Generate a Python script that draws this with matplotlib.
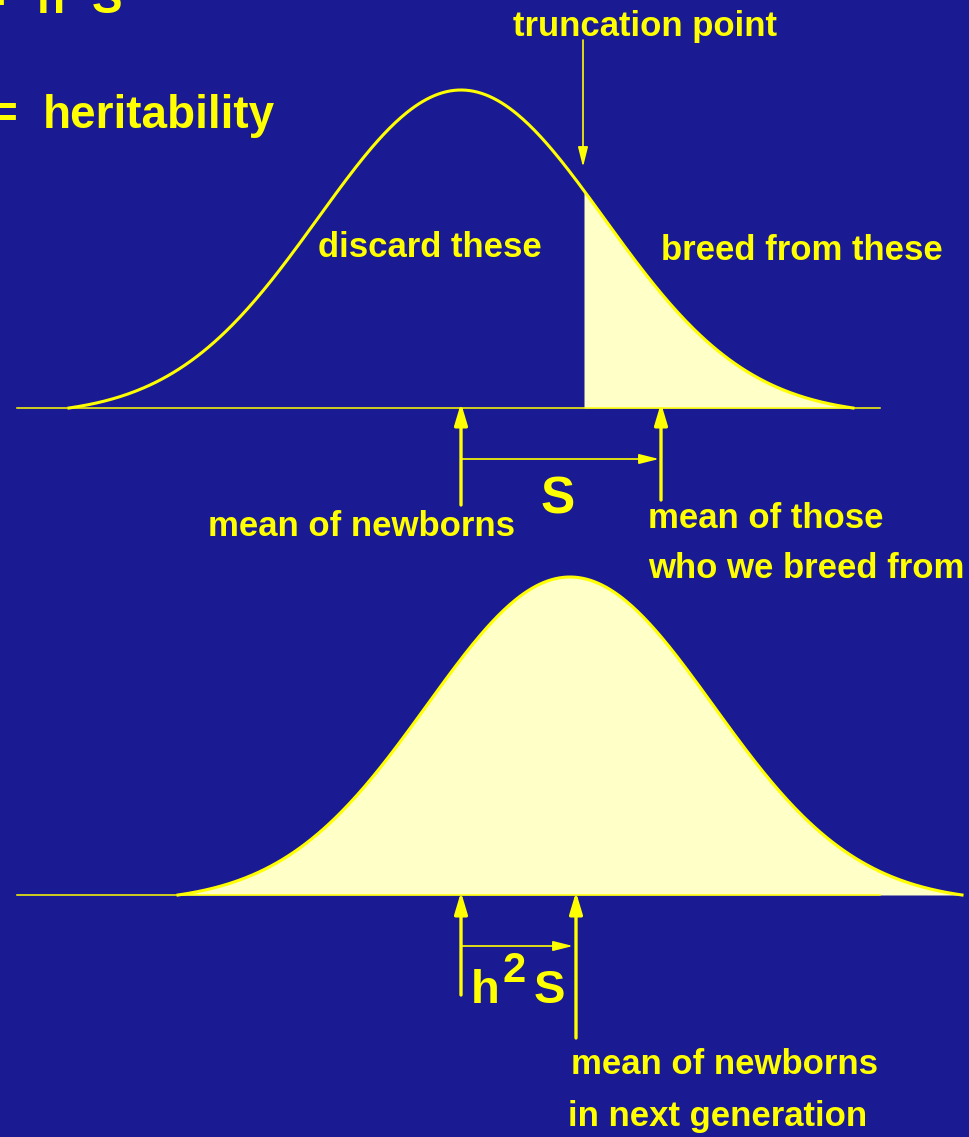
import numpy as np
import matplotlib
matplotlib.use("Agg")
import matplotlib.pyplot as plt

# --- Werte (Pixel-Koordinaten der Folie) ------------------------------------
BG = "#1a1a92"
GELB = "#ffff00"
FUELL = "#ffffc8"

# obere Verteilung (Elterngeneration)
MEAN_ELTERN = 461
SD = 143
HALBBREITE = 392
BASIS_OBEN = 408
HOEHE = 318
TRUNKATION = 584
MEAN_AUSWAHL = 661

# untere Verteilung (naechste Generation)
MEAN_KINDER_KURVE = 570
MEAN_KINDER = 576
BASIS_UNTEN = 895

BASIS_LINIE = (17, 880)


def glocke(mitte, basis, extra=None):
    x = np.linspace(mitte - HALBBREITE, mitte + HALBBREITE, 400)
    if extra is not None:
        x = np.sort(np.append(x, extra))
    g = np.exp(-(x - mitte) ** 2 / (2 * SD ** 2))
    g_end = np.exp(-HALBBREITE ** 2 / (2 * SD ** 2))
    y = basis - HOEHE * (g - g_end) / (1 - g_end)
    return x, y


plt.rcParams["font.family"] = ["Liberation Sans", "DejaVu Sans"]
plt.rcParams["font.weight"] = "bold"

fig = plt.figure(figsize=(9.69, 11.37), dpi=100, facecolor=BG)
ax = fig.add_axes([0, 0, 1, 1])
ax.set_facecolor(BG)
ax.set_xlim(0, 969)
ax.set_ylim(1137, 0)
ax.axis("off")

# obere Kurve
x1, y1 = glocke(MEAN_ELTERN, BASIS_OBEN, extra=TRUNKATION)
m = x1 >= TRUNKATION
ax.fill_between(x1[m], y1[m], BASIS_OBEN, color=FUELL, lw=0, zorder=1)
ax.plot(BASIS_LINIE, [BASIS_OBEN, BASIS_OBEN], color=GELB, lw=1.1, zorder=2)
ax.plot(x1, y1, color=GELB, lw=2.2, zorder=3)

# untere Kurve
x2, y2 = glocke(MEAN_KINDER_KURVE, BASIS_UNTEN)
ax.fill_between(x2, y2, BASIS_UNTEN, color=FUELL, lw=0, zorder=1)
ax.plot(BASIS_LINIE, [BASIS_UNTEN, BASIS_UNTEN], color=GELB, lw=1.1, zorder=2)
ax.plot(x2, y2, color=GELB, lw=2.2, zorder=3)


def pfeil(xy_von, xy_nach, lw, hl, hw, ms):
    ax.annotate("", xy=xy_nach, xytext=xy_von,
                arrowprops=dict(arrowstyle=f"-|>,head_length={hl},head_width={hw}",
                                color=GELB, lw=lw, mutation_scale=ms,
                                shrinkA=0, shrinkB=0), zorder=4)


# senkrechte Pfeile
pfeil((MEAN_ELTERN, 505), (MEAN_ELTERN, BASIS_OBEN - 5), 2.4, 1.0, 0.3, 13)
pfeil((MEAN_AUSWAHL, 500), (MEAN_AUSWAHL, BASIS_OBEN - 5), 2.4, 1.0, 0.3, 13)
pfeil((MEAN_ELTERN, 995), (MEAN_ELTERN, BASIS_UNTEN - 3), 2.4, 1.0, 0.3, 13)
pfeil((MEAN_KINDER, 1038), (MEAN_KINDER, BASIS_UNTEN - 3), 2.4, 1.0, 0.3, 13)
# waagrechte Pfeile
pfeil((MEAN_ELTERN, 459), (MEAN_AUSWAHL - 2, 459), 1.2, 1.0, 0.25, 12)
pfeil((MEAN_ELTERN, 946), (MEAN_KINDER - 3, 946), 1.2, 1.0, 0.25, 12)
# Trunkationspunkt
pfeil((TRUNKATION - 1, 40), (TRUNKATION - 1, 167), 1.2, 1.0, 0.25, 12)

# --- Texte -------------------------------------------------------------------
t = dict(color=GELB, fontweight="bold", va="baseline")
ax.text(5, 13, "=", fontsize=33, ha="right", **t)
ax.text(37, 13, "h", fontsize=33, ha="left", **t)
ax.text(66, -8, "2", fontsize=28, ha="left", **t)
ax.text(92, 13, "S", fontsize=33, ha="left", **t)
ax.text(17, 128, "=", fontsize=33, ha="right", **t)
ax.text(43, 128, "heritability", fontsize=33, ha="left", **t)

ax.text(513, 36, "truncation point", fontsize=25, ha="left", **t)
ax.text(318, 257, "discard these", fontsize=25, ha="left", **t)
ax.text(661, 260, "breed from these", fontsize=25, ha="left", **t)
ax.text(208, 536, "mean of newborns", fontsize=25, ha="left", **t)
ax.text(648, 528, "mean of those", fontsize=25, ha="left", **t)
ax.text(648, 578, "who we breed from", fontsize=25, ha="left", **t)
ax.text(571, 1074, "mean of newborns", fontsize=25, ha="left", **t)
ax.text(568, 1126, "in next generation", fontsize=25, ha="left", **t)

ax.text(541, 513, "S", fontsize=37, ha="left", **t)
ax.text(471, 1003, "h", fontsize=34, ha="left", **t)
ax.text(503, 982, "2", fontsize=30, ha="left", **t)
ax.text(534, 1003, "S", fontsize=34, ha="left", **t)

fig.savefig("out.png", dpi=100, facecolor=BG)
